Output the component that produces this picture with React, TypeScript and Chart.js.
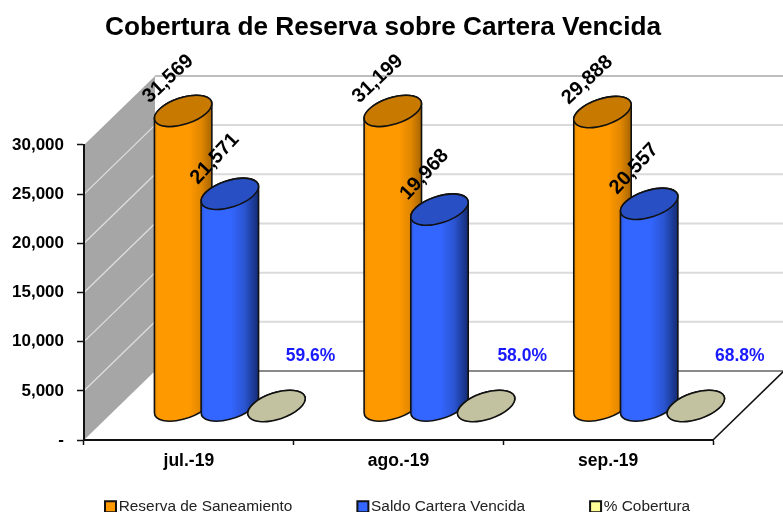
import React, { useEffect, useRef } from "react";
import { Chart, registerables } from "chart.js";

Chart.register(...registerables);

const categories = ["jul.-19", "ago.-19", "sep.-19"];
const reserva = [31569, 31199, 29888];
const saldo = [21571, 19968, 20557];
const cobertura = [0.596, 0.58, 0.688];
const titleText = "Cobertura de Reserva sobre Cartera Vencida";
const FONT = "'Liberation Sans', Arial, sans-serif";

// Perspective of the 3D box, and where the cylinders stand inside it
const DEPTH = { x: 71, y: 69 };
const STAND = { x: 41, y: 34 };
const pctNudge = [-2, 0, 8];
const labelStyle = [
  { angle: -43, dx: -15, dy: -32 },
  { angle: -47, dx: -15, dy: -35 },
];

const looks = [
  {
    top: "#C87A00",
    stops: [[0, "#E08A00"], [0.06, "#FF9900"], [0.6, "#FF9900"], [0.82, "#E08600"], [1, "#A86500"]],
  },
  {
    top: "#2850C4",
    stops: [[0, "#2C56D4"], [0.06, "#3366FF"], [0.52, "#3366FF"], [0.76, "#2A54D0"], [1, "#142C74"]],
  },
  { top: "#C2C2A0", stops: [[0, "#C2C2A0"], [1, "#C2C2A0"]] },
];

const fmt = (v: number) => (v === 0 ? "-" : v.toLocaleString("en-US"));

function drawCylinder(ctx: any, el: any, yTop: number, yBase: number, look: any) {
  const cx = el.x + STAND.x;
  const ya = yTop - STAND.y;
  const yb = yBase - STAND.y;
  const a = el.width * 0.64;
  const b = el.width * 0.285;
  const th = (-18 * Math.PI) / 180;
  const tr = Math.atan2(-b * Math.sin(th), a * Math.cos(th));
  const ex = a * Math.cos(tr) * Math.cos(th) - b * Math.sin(tr) * Math.sin(th);

  ctx.save();
  ctx.lineWidth = 1.6;
  ctx.strokeStyle = "#111";
  const g = ctx.createLinearGradient(cx - ex, 0, cx + ex, 0);
  look.stops.forEach((s: any) => g.addColorStop(s[0], s[1]));
  ctx.beginPath();
  ctx.ellipse(cx, yb, a, b, th, tr, tr + Math.PI, false);
  ctx.ellipse(cx, ya, a, b, th, tr + Math.PI, tr + 2 * Math.PI, false);
  ctx.closePath();
  ctx.fillStyle = g;
  ctx.fill();
  ctx.stroke();
  ctx.beginPath();
  ctx.ellipse(cx, ya, a, b, th, 0, 2 * Math.PI);
  ctx.fillStyle = look.top;
  ctx.fill();
  ctx.stroke();
  ctx.restore();
}

const box3d = {
  id: "box3d",
  afterLayout(chart: any) {
    chart.titleBlock.left = 0;
    chart.titleBlock.right = 766;
    const pad = chart.legend.options.labels.padding;
    chart.legend.left = 110 - pad;
    chart.legend.right = 900;
    chart.legend.top = 506.5 - 7.5 - pad;
  },
  beforeDraw(chart: any) {
    const { ctx, scales } = chart;
    const y = scales.y;
    const l = scales.x.left;
    const r = scales.x.right;
    const t = y.top;
    const bot = y.bottom;
    const w = chart.width;
    ctx.save();
    ctx.fillStyle = "#A6A6A6";
    ctx.beginPath();
    ctx.moveTo(l, bot);
    ctx.lineTo(l, t);
    ctx.lineTo(l + DEPTH.x, t - DEPTH.y);
    ctx.lineTo(l + DEPTH.x, bot - DEPTH.y);
    ctx.closePath();
    ctx.fill();
    y.ticks.forEach((tk: any) => {
      const p = y.getPixelForValue(tk.value);
      if (tk.value > 0 && tk.value < 30000) {
        ctx.strokeStyle = "#DEDEDE";
        ctx.lineWidth = 1.3;
        ctx.beginPath();
        ctx.moveTo(l, p);
        ctx.lineTo(l + DEPTH.x, p - DEPTH.y);
        ctx.stroke();
      }
      ctx.strokeStyle = tk.value === 0 ? "#8A8A8A" : tk.value === 30000 ? "#BEBEBE" : "#DADADA";
      ctx.lineWidth = 2;
      ctx.beginPath();
      ctx.moveTo(l + DEPTH.x, p - DEPTH.y);
      ctx.lineTo(w, p - DEPTH.y);
      ctx.stroke();
    });
    ctx.strokeStyle = "#111";
    ctx.lineWidth = 1.6;
    ctx.beginPath();
    ctx.moveTo(r, bot);
    ctx.lineTo(r + DEPTH.x, bot - DEPTH.y);
    ctx.stroke();
    ctx.restore();
  },
  beforeDatasetsDraw(chart: any) {
    const { ctx, scales } = chart;
    chart.data.datasets.forEach((_: any, di: number) => {
      chart.getDatasetMeta(di).data.forEach((el: any) => {
        drawCylinder(ctx, el, Math.max(el.y, scales.y.top), el.base, looks[di]);
      });
    });
    return false;
  },
  afterDraw(chart: any) {
    const { ctx, scales } = chart;
    ctx.save();
    ctx.fillStyle = "#000";
    ctx.textAlign = "center";
    ctx.textBaseline = "middle";
    ctx.font = `bold 20px ${FONT}`;
    [0, 1].forEach((di) => {
      const st = labelStyle[di];
      chart.getDatasetMeta(di).data.forEach((el: any, i: number) => {
        const v = chart.data.datasets[di].data[i];
        const yTop = Math.max(el.y, scales.y.top);
        ctx.save();
        ctx.translate(el.x + STAND.x + st.dx, yTop - STAND.y + st.dy);
        ctx.rotate((st.angle * Math.PI) / 180);
        ctx.fillText(fmt(v), 0, 0);
        ctx.restore();
      });
    });
    ctx.fillStyle = "#1A1AFF";
    ctx.font = `bold 17.5px ${FONT}`;
    chart.getDatasetMeta(2).data.forEach((el: any, i: number) => {
      const v = chart.data.datasets[2].data[i];
      ctx.fillText((v * 100).toFixed(1) + "%", el.x + STAND.x + 36 + pctNudge[i], el.base - STAND.y - 49);
    });
    ctx.restore();
  },
};

export default function App() {
  const ref = useRef<HTMLCanvasElement | null>(null);
  useEffect(() => {
    document.body.style.margin = "0";
    document.body.style.background = "#fff";
    const chart = new Chart(ref.current as any, {
      type: "bar",
      data: {
        labels: categories,
        datasets: [
          { label: "Reserva de Saneamiento", data: reserva, backgroundColor: "#FF9900", borderColor: "#111", borderWidth: 2 },
          { label: "Saldo Cartera Vencida", data: saldo, backgroundColor: "#3366FF", borderColor: "#111", borderWidth: 2 },
          { label: "% Cobertura", data: cobertura, backgroundColor: "#FFFF99", borderColor: "#111", borderWidth: 2 },
        ],
      } as any,
      plugins: [box3d as any],
      options: {
        responsive: false,
        animation: false,
        datasets: { bar: { categoryPercentage: 0.668, barPercentage: 1 } },
        layout: { padding: { top: 12, left: 0, right: -120, bottom: 0 } },
        plugins: {
          tooltip: { enabled: false },
          title: {
            display: true,
            text: titleText,
            color: "#000",
            font: { family: FONT, size: 26.2, weight: "bold", lineHeight: 1.2 },
            padding: { top: 0, bottom: 101.5 },
          },
          legend: {
            position: "bottom",
            align: "start",
            maxHeight: 40,
            labels: {
              usePointStyle: true,
              pointStyle: "rect",
              boxWidth: 1,
              boxHeight: 11,
              padding: 70,
              color: "#222",
              font: { family: FONT, size: 15.4 },
            },
          },
        },
        scales: {
          x: {
            afterFit: (s: any) => { s.height = 32; },
            grid: { drawOnChartArea: false, tickLength: 5, tickColor: "#111", tickWidth: 1.5 },
            border: { color: "#111", width: 2 },
            ticks: { color: "#000", padding: 6, maxRotation: 0, autoSkip: false, font: { family: FONT, size: 17.5, weight: "bold" } },
          },
          y: {
            min: 0,
            max: 30000,
            afterFit: (s: any) => { s.width = 84; },
            grid: { drawOnChartArea: false, tickLength: 7, tickColor: "#111", tickWidth: 1.5 },
            border: { color: "#111", width: 2 },
            ticks: {
              stepSize: 5000,
              color: "#000",
              padding: 13,
              font: { family: FONT, size: 17, weight: "bold" },
              callback: (v: any) => fmt(Number(v)),
            },
          },
          side: {
            type: "linear",
            position: "right",
            afterFit: (s: any) => { s.width = 190; },
            grid: { display: false },
            border: { display: false },
            ticks: { display: false },
          },
        },
      } as any,
    });
    return () => chart.destroy();
  }, []);
  return <canvas ref={ref} width={783} height={512} style={{ display: "block" }} />;
}
